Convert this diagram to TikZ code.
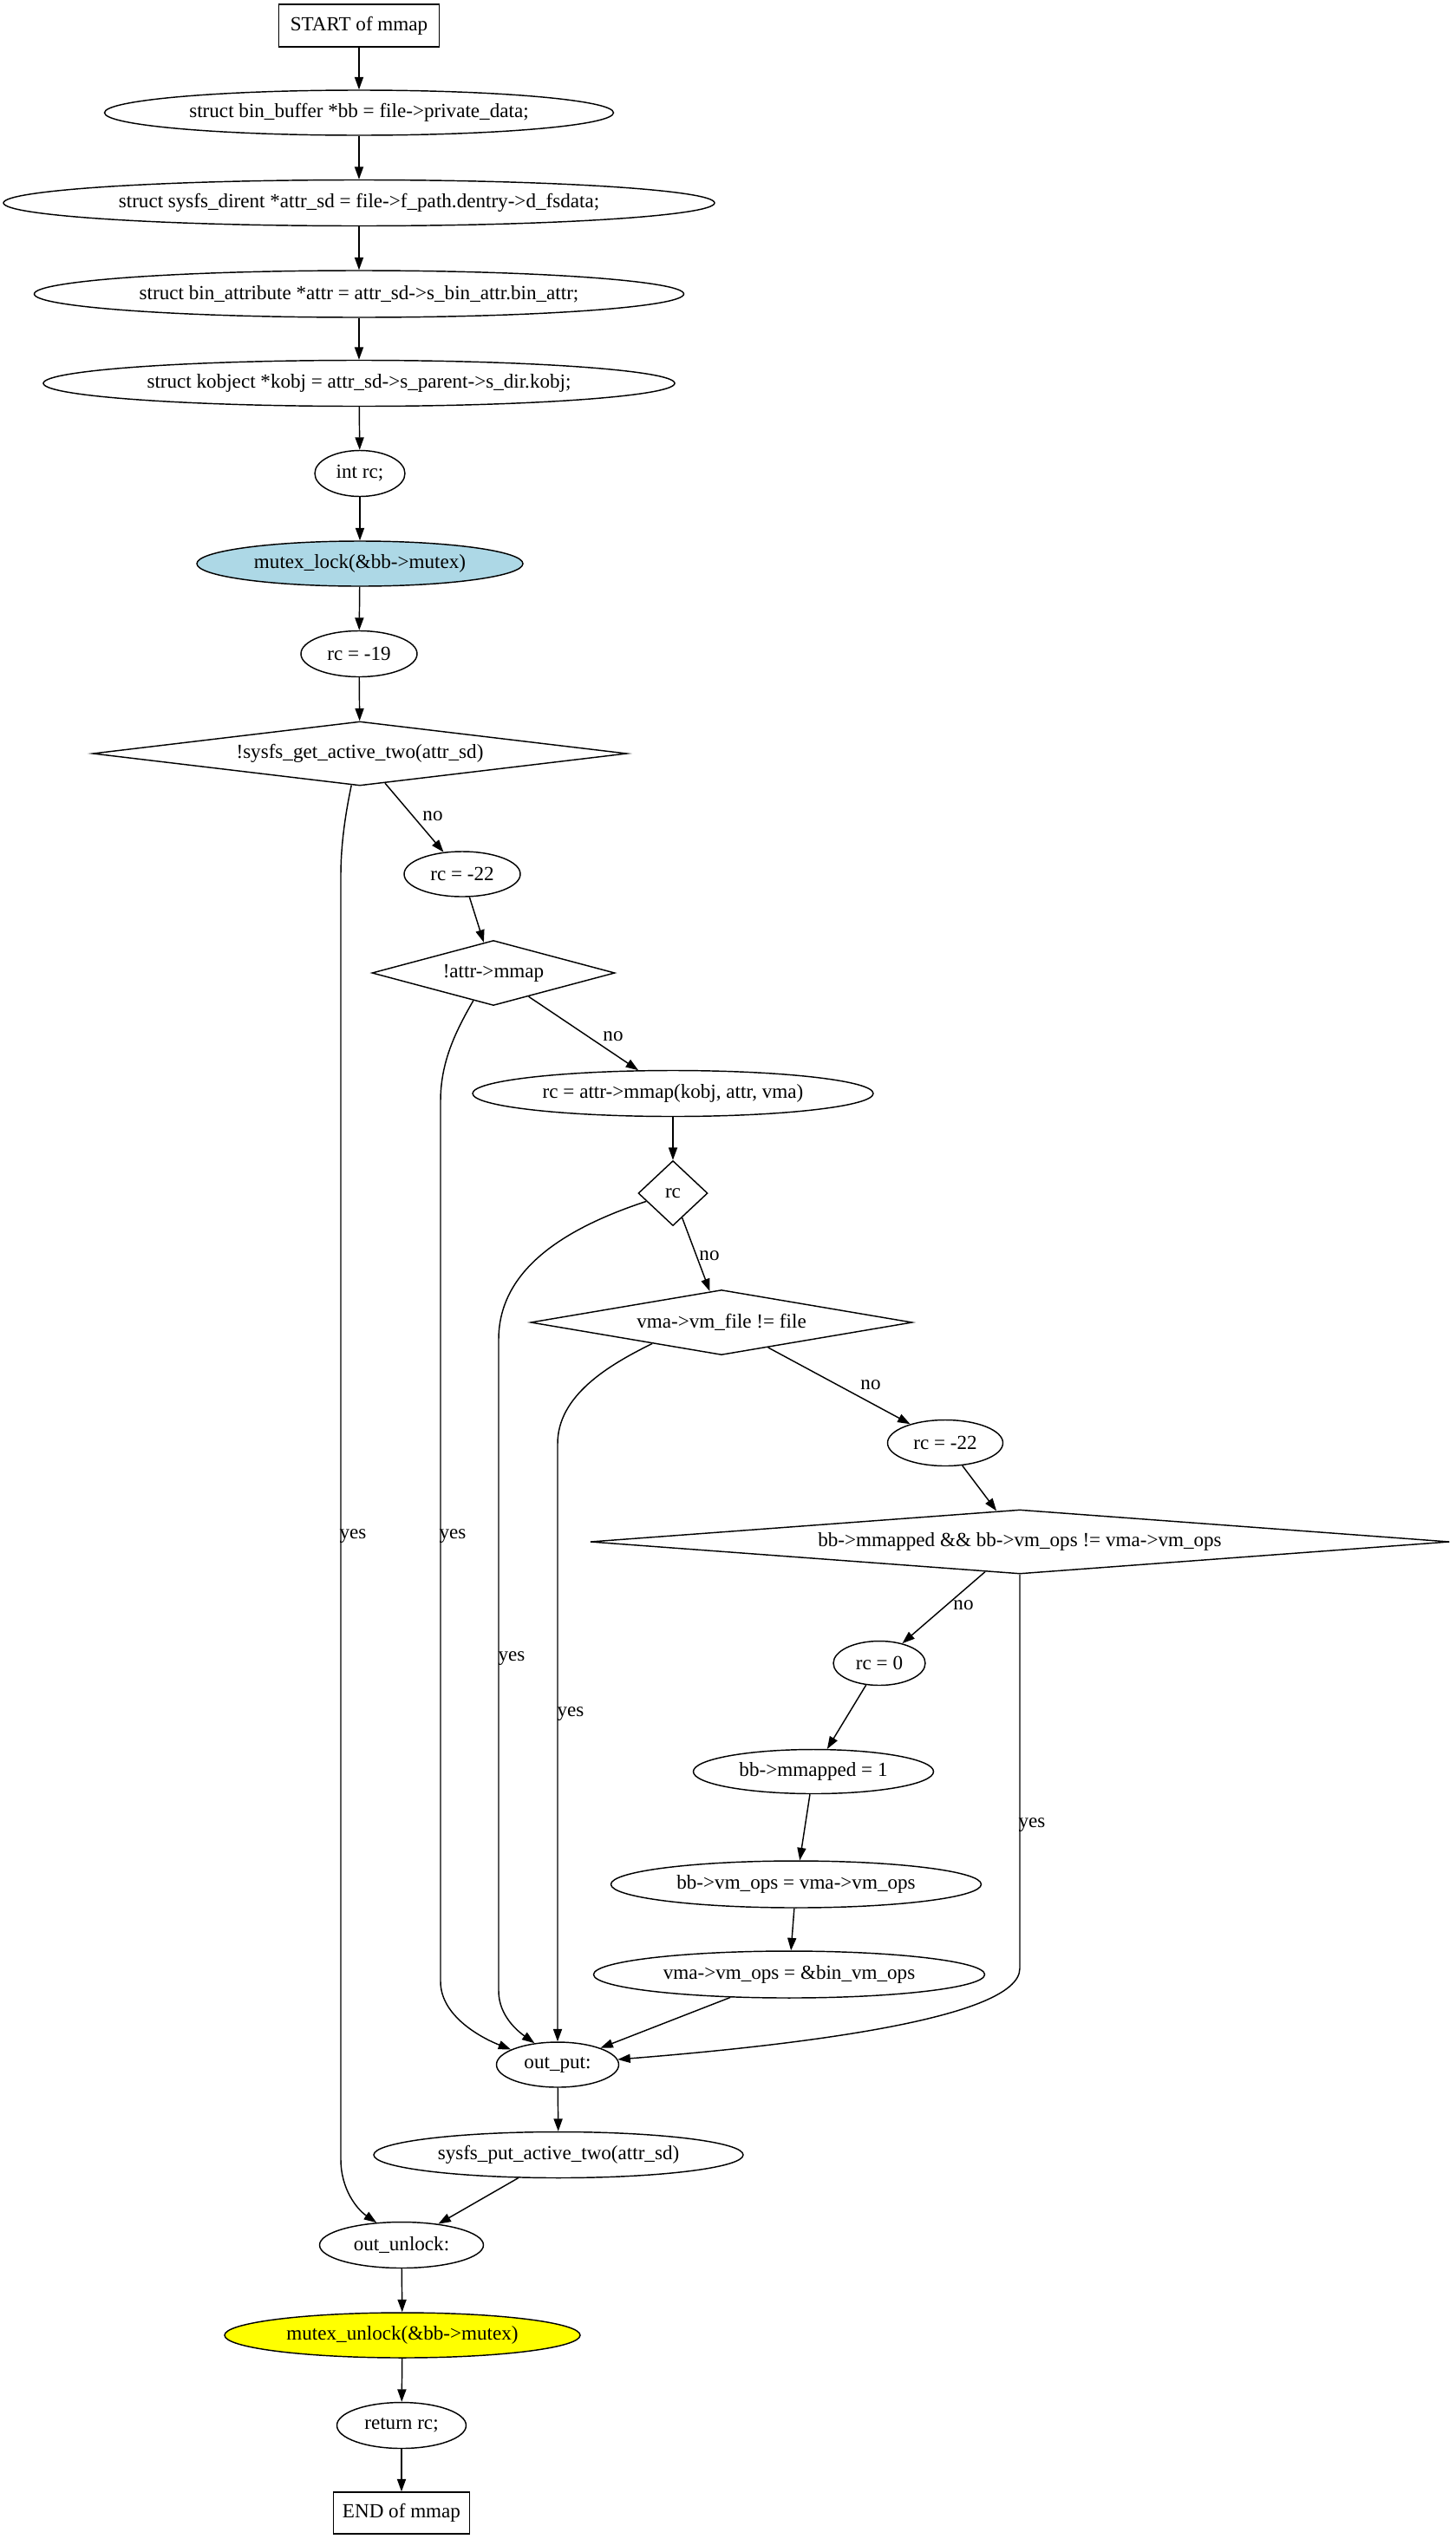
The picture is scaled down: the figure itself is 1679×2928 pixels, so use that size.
\documentclass[tikz,border=0pt]{standalone}
\usepackage{fontspec}
\setmainfont{Liberation Serif}
\usetikzlibrary{shapes.geometric,arrows.meta}
\definecolor{lblue}{HTML}{ADD8E6}
\definecolor{gvyellow}{HTML}{FFFF00}
\begin{document}
\begin{tikzpicture}[x=0.6925pt,y=-0.6925pt,
  base/.style={draw=black, line width=1pt, inner sep=0pt, font=\fontsize{16}{18}\selectfont},
  ell/.style={base, ellipse},
  boxnode/.style={base, rectangle},
  dia/.style={base, diamond},
  sz/.style 2 args={minimum width=#1*0.6925pt, minimum height=#2*0.6925pt},
  edge/.style={draw=black, line width=1pt, -{Triangle[length=10pt,width=7pt]}},
  lbl/.style={inner sep=0pt, font=\fontsize{16}{18}\selectfont}]
\useasboundingbox (0,0) rectangle (1679,2928);
\fill[white] (0,0) rectangle (1679,2928);

\node[boxnode, sz={185}{49}] (start) at (414,29.5) {START of mmap};
\node[ell, sz={587}{52}] (bb) at (414,130) {struct bin\_buffer *bb = file->private\_data;};
\node[ell, sz={820}{53}] (attrsd) at (414,234) {struct sysfs\_dirent *attr\_sd = file->f\_path.dentry->d\_fsdata;};
\node[ell, sz={749}{54}] (attr) at (414,339) {struct bin\_attribute *attr = attr\_sd->s\_bin\_attr.bin\_attr;};
\node[ell, sz={728}{53}] (kobj) at (414,442) {struct kobject *kobj = attr\_sd->s\_parent->s\_dir.kobj;};
\node[ell, sz={104}{53}] (intrc) at (415,546) {int rc;};
\node[ell, sz={376}{52}, fill=lblue] (mlock) at (415,650) {mutex\_lock(\&bb->mutex)};
\node[ell, sz={134}{53}] (rc19) at (414,754) {rc = -19};
\node[dia, sz={616}{74}, shape aspect=8.3] (sg) at (415,869) {!sysfs\_get\_active\_two(attr\_sd)};
\node[ell, sz={134}{52}] (rc22a) at (533,1008) {rc = -22};
\node[dia, sz={280}{75}, shape aspect=3.7] (am) at (569,1122) {!attr->mmap};
\node[ell, sz={462}{53}] (rcam) at (776,1261) {rc = attr->mmap(kobj, attr, vma)};
\node[dia, sz={80}{75}, shape aspect=1.07] (rcd) at (776,1376) {rc};
\node[dia, sz={440}{75}, shape aspect=5.9] (vma) at (832,1525) {vma->vm\_file != file};
\node[ell, sz={133}{53}] (rc22b) at (1090,1664) {rc = -22};
\node[dia, sz={991}{74}, shape aspect=13.4] (big) at (1176,1778) {bb->mmapped \&\& bb->vm\_ops != vma->vm\_ops};
\node[ell, sz={106}{51}] (rc0) at (1014,1918) {rc = 0};
\node[ell, sz={277}{51}] (mm1) at (938,2043) {bb->mmapped = 1};
\node[ell, sz={427}{54}] (vmops) at (918,2173) {bb->vm\_ops = vma->vm\_ops};
\node[ell, sz={451}{54}] (vmavm) at (910,2277) {vma->vm\_ops = \&bin\_vm\_ops};
\node[ell, sz={141}{52}] (op) at (643,2381) {out\_put:};
\node[ell, sz={426}{53}] (sput) at (644,2485) {sysfs\_put\_active\_two(attr\_sd)};
\node[ell, sz={189}{53}] (ou) at (463,2589) {out\_unlock:};
\node[ell, sz={410}{52}, fill=gvyellow] (munlock) at (464,2693) {mutex\_unlock(\&bb->mutex)};
\node[ell, sz={149}{53}] (ret) at (463,2797) {return rc;};
\node[boxnode, sz={157}{48}] (end) at (463,2898) {END of mmap};

\draw[edge] (start) -- (bb);
\draw[edge] (bb) -- (attrsd);
\draw[edge] (attrsd) -- (attr);
\draw[edge] (attr) -- (kobj);
\draw[edge] (kobj) -- (intrc);
\draw[edge] (intrc) -- (mlock);
\draw[edge] (mlock) -- (rc19);
\draw[edge] (rc19) -- (sg);
\draw[edge] (sg) -- (rc22a);
\draw[edge] (rc22a) -- (am);
\draw[edge] (am) -- (rcam);
\draw[edge] (rcam) -- (rcd);
\draw[edge] (rcd) -- (vma);
\draw[edge] (vma) -- (rc22b);
\draw[edge] (rc22b) -- (big);
\draw[edge] (big) -- (rc0);
\draw[edge] (rc0) -- (mm1);
\draw[edge] (mm1) -- (vmops);
\draw[edge] (vmops) -- (vmavm);
\draw[edge] (vmavm) -- (op);
\draw[edge] (op) -- (sput);
\draw[edge] (sput) -- (ou);
\draw[edge] (ou) -- (munlock);
\draw[edge] (munlock) -- (ret);
\draw[edge] (ret) -- (end);

% yes branches
\draw[edge] (sg.255) .. controls (398,940) and (393,975) .. (393,1010) -- (393,2490) .. controls (393,2525) and (412,2548) .. (ou.138);
\draw[edge] (am.234) .. controls (525,1190) and (508,1225) .. (508,1270) -- (508,2285) .. controls (508,2325) and (555,2350) .. (op.162);
\draw[edge] (rcd.197) .. controls (640,1420) and (575,1470) .. (575,1545) -- (575,2296) .. controls (575,2325) and (598,2343) .. (op.137);
\draw[edge] (vma.197) .. controls (700,1575) and (643,1610) .. (643,1665) -- (op.north);
\draw[edge] (big.south) -- (1176,2270) .. controls (1176,2330) and (900,2360) .. (op.5);

% labels
\node[lbl] (lno1) at (499,941) {no};
\node[lbl] (lno2) at (707,1195) {no};
\node[lbl] (lno3) at (818,1448) {no};
\node[lbl] (lno4) at (1004,1597) {no};
\node[lbl] (lno5) at (1111,1851) {no};
\node[lbl] (lyes1) at (407,1772) {yes};
\node[lbl] (lyes2) at (522,1772) {yes};
\node[lbl] (lyes3) at (590,1913) {yes};
\node[lbl] (lyes4) at (658,1977) {yes};
\node[lbl] (lyes5) at (1190,2105) {yes};
\end{tikzpicture}
\end{document}
